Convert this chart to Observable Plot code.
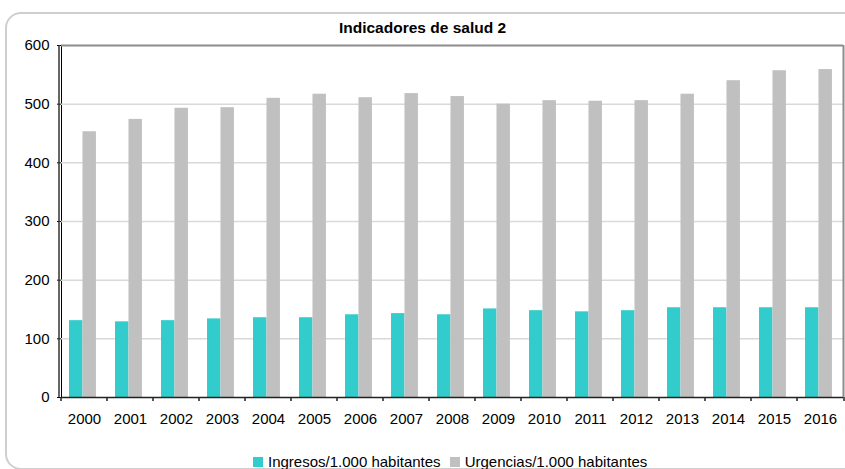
<!DOCTYPE html>
<html>
<head>
<meta charset="utf-8">
<script src="https://cdn.jsdelivr.net/npm/d3@7"></script>
<script src="https://cdn.jsdelivr.net/npm/@observablehq/plot@0.6"></script>
<style>
  html, body { margin: 0; padding: 0; background: #fff; overflow: hidden; }
  #wrap { position: relative; width: 845px; height: 469px; overflow: hidden; font-family: 'Liberation Sans', Arial, sans-serif; }
  #border { position: absolute; left: 5px; top: 12px; width: 860px; height: 458px; border: 2px solid #cfcfcf; border-radius: 16px; box-sizing: border-box; }
  #title { position: absolute; left: 0; width: 845px; top: 19.6px; text-align: center; font-weight: bold; font-size: 15.5px; line-height: 1; color: #000; }
  #chart { position: absolute; left: 0; top: 0; }
  #legend { position: absolute; left: 253px; top: 454.3px; font-size: 15px; line-height: 1; color: #000; white-space: nowrap; display: flex; align-items: center; }
  .sw { display: inline-block; width: 10px; height: 10px; margin-right: 5px; }
  .item { display: inline-flex; align-items: center; margin-right: 9px; }
</style>
</head>
<body>
<div id="wrap">
  <div id="border"></div>
  <div id="chart"></div>
  <div id="title"></div>
  <div id="legend"></div>
</div>
<script>
const titleText = "Indicadores de salud 2";
const years = ["2000","2001","2002","2003","2004","2005","2006","2007","2008","2009","2010","2011","2012","2013","2014","2015","2016"];
const ingresos = [131,129,131,134,136,136,141,143,141,151,148,146,148,153,153,153,153];
const urgencias = [453,474,493,494,510,517,511,518,513,500,506,505,506,517,540,557,559];
const seriesNames = ["Ingresos/1.000 habitantes","Urgencias/1.000 habitantes"];
const seriesColors = ["#33CCCC","#C0C0C0"];
const yTicks = [0,100,200,300,400,500,600];

const data = years.flatMap((yr, i) => [
  {year: yr, serie: seriesNames[0], value: ingresos[i]},
  {year: yr, serie: seriesNames[1], value: urgencias[i]}
]);

document.getElementById("title").textContent = titleText;

const plot = Plot.plot({
  width: 845,
  height: 430,
  marginTop: 45,
  marginRight: 1,
  marginBottom: 33,
  marginLeft: 59,
  style: {fontFamily: "'Liberation Sans', Arial, sans-serif", fontSize: "15px", color: "#000", background: "transparent", overflow: "visible"},
  facet: {data, x: "year"},
  fx: {domain: years, padding: 0, label: null, axis: "bottom", tickSize: 0, tickPadding: 16},
  x: {domain: seriesNames, paddingInner: 0, paddingOuter: 0.71, align: 0.42, round: false, axis: null},
  y: {domain: [0, 600], ticks: yTicks, label: null, tickSize: 4, tickPadding: 8, line: true},
  color: {domain: seriesNames, range: seriesColors},
  marks: [
    Plot.ruleY(yTicks.slice(1, -1), {stroke: "#d9d9d9", strokeWidth: 1.5}),
    Plot.barY(data, {x: "serie", y: "value", fill: "serie"}),
    Plot.ruleY([600], {stroke: "#8c8c8c", strokeWidth: 2}),
    Plot.ruleY([0], {stroke: "#222", strokeWidth: 1.5})
  ]
});
document.getElementById("chart").appendChild(plot);

// boundary ticks and right frame drawn from the plot's own scales
const svg = d3.select(plot);
const fx = plot.scale("fx");
const y = plot.scale("y");
const y0 = y.apply(0), yTop = y.apply(600);
const bounds = years.map(yr => fx.apply(yr));
bounds.push(fx.range[1]);
const g = svg.append("g");
g.selectAll("line.bt").data(bounds).join("line")
  .attr("x1", d => d).attr("x2", d => d)
  .attr("y1", y0).attr("y2", y0 + 4)
  .attr("stroke", "#222").attr("stroke-width", 1.5);
g.append("line")
  .attr("x1", fx.range[1] - 0.5).attr("x2", fx.range[1] - 0.5)
  .attr("y1", yTop).attr("y2", y0)
  .attr("stroke", "#8c8c8c").attr("stroke-width", 2);
g.append("line")
  .attr("x1", fx.range[0]).attr("x2", fx.range[0])
  .attr("y1", yTop).attr("y2", y0)
  .attr("stroke", "#333").attr("stroke-width", 1.5);

// legend
const legend = d3.select("#legend");
seriesNames.forEach((name, i) => {
  const it = legend.append("span").attr("class", "item");
  it.append("span").attr("class", "sw").style("background", seriesColors[i]);
  it.append("span").text(name);
});
</script>
</body>
</html>
